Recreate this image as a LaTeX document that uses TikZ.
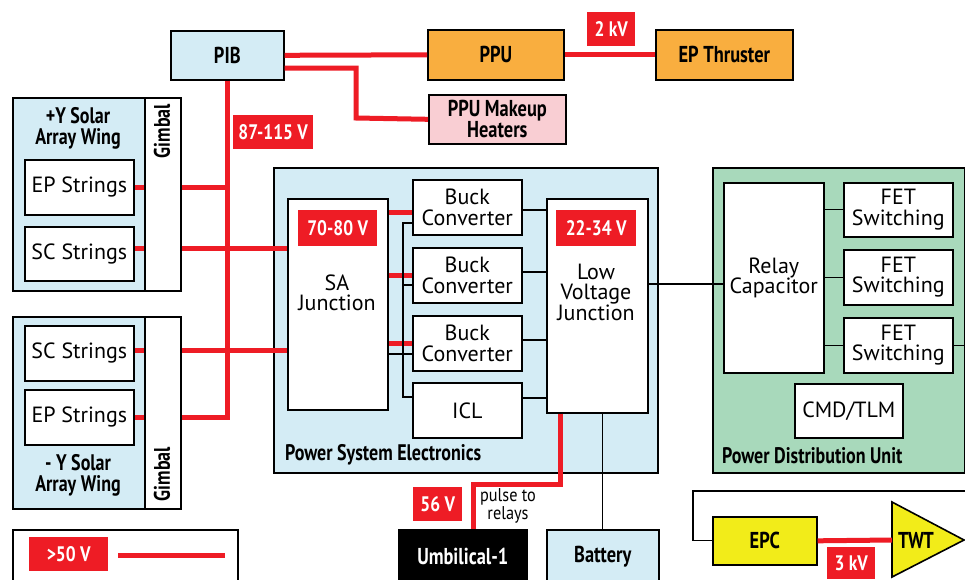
\documentclass[tikz,border=0pt]{standalone}
\usepackage{fontspec}
\setmainfont{PT Sans}
\newfontfamily\bcf[FakeStretch=0.8]{PT Sans}
\newfontfamily\tgf[FakeStretch=0.83]{PT Sans}
\newfontfamily\ncf[FakeStretch=0.88]{PT Sans}
\definecolor{lblue}{HTML}{D4ECF5}
\definecolor{orng}{HTML}{F9AE3F}
\definecolor{pnk}{HTML}{F9CED3}
\definecolor{grn}{HTML}{A8D9BB}
\definecolor{ylw}{HTML}{F2EC19}
\definecolor{rd}{HTML}{EE1C25}
\tikzset{
  bx/.style={draw=black, line width=1.6pt, inner sep=0pt, align=center, anchor=north west},
  reg/.style={font=\fontsize{22}{20.5}\selectfont},
  bld/.style={font=\bcf\bfseries\fontsize{23}{21}\selectfont},
  lbl/.style={font=\bcf\bfseries\fontsize{22.5}{21}\selectfont, align=center, inner sep=0pt},
  tag/.style={fill=rd, text=white, inner sep=0pt, anchor=north west, font=\tgf\bfseries\fontsize{21}{19}\selectfont},
  hv/.style={rd, line width=5pt},
  thn/.style={black, line width=1.3pt},
}
\begin{document}
\begin{tikzpicture}[x=1pt,y=-1pt]
\clip (0,0) rectangle (965,579);
\fill[white] (0,0) rectangle (965,579);
% containers
\node[bx, fill=lblue, minimum width=132pt, minimum height=193pt] (wingP) at (12,97) {};
\node[bx, fill=white, minimum width=36pt, minimum height=193pt] (gimbalP) at (144,97) {};
\node[bx, fill=lblue, minimum width=132pt, minimum height=192pt] (wingM) at (12,316) {};
\node[bx, fill=white, minimum width=36pt, minimum height=192pt] (gimbalM) at (144,316) {};
\node[bx, fill=white, minimum width=225pt, minimum height=70pt] (legend) at (12,529) {};
\node[bx, fill=lblue, minimum width=384pt, minimum height=305pt] (PSE) at (273,167) {};
\node[bx, fill=grn, minimum width=252pt, minimum height=305pt] (PDU) at (712,167) {};
% top boxes
\node[bx, fill=lblue, bld, minimum width=113pt, minimum height=49pt] (PIB) at (170,30) {PIB};
\node[bx, fill=orng, bld, minimum width=136pt, minimum height=50pt] (PPU) at (427,29) {PPU};
\node[bx, fill=orng, bld, minimum width=137pt, minimum height=50pt] (EPT) at (655,29) {EP Thruster};
\node[bx, fill=pnk, bld, minimum width=137pt, minimum height=49pt] (Heaters) at (428,94) {PPU Makeup\\Heaters};
% wings
\node[lbl] (titleP) at (78,128) {+Y Solar\\Array Wing};
\node[lbl] (titleM) at (78,475) {- Y Solar\\Array Wing};
\node[lbl, rotate=90] (gtxtP) at (162,131) {Gimbal};
\node[lbl, rotate=90] (gtxtM) at (162,474) {Gimbal};
\node[bx, fill=white, reg, minimum width=109pt, minimum height=55pt] (EPsP) at (24,159) {EP Strings};
\node[bx, fill=white, reg, minimum width=109pt, minimum height=54pt] (SCsP) at (24,226) {SC Strings};
\node[bx, fill=white, reg, minimum width=109pt, minimum height=55pt] (SCsM) at (24,325) {SC Strings};
\node[bx, fill=white, reg, minimum width=109pt, minimum height=55pt] (EPsM) at (24,389) {EP Strings};
% PSE
\node[bx, fill=white, minimum width=100pt, minimum height=211pt] (SAJ) at (287,198) {};
\node[reg, align=center, inner sep=0pt] (SAJtxt) at (337,293) {SA\\Junction};
\node[bx, fill=white, reg, minimum width=109pt, minimum height=55pt] (Buck1) at (412,179) {Buck\\Converter};
\node[bx, fill=white, reg, minimum width=109pt, minimum height=55pt] (Buck2) at (412,247) {Buck\\Converter};
\node[bx, fill=white, reg, minimum width=109pt, minimum height=55pt] (Buck3) at (412,315) {Buck\\Converter};
\node[bx, fill=white, reg, minimum width=109pt, minimum height=55pt] (ICL) at (412,382) {ICL};
\node[bx, fill=white, minimum width=101pt, minimum height=214pt] (LVJ) at (546,198) {};
\node[reg, align=center, inner sep=0pt] (LVJtxt) at (596,292) {Low\\Voltage\\Junction};
\node[lbl, anchor=west] (PSEtxt) at (285,455) {Power System Electronics};
% PDU
\node[bx, fill=white, reg, minimum width=100pt, minimum height=190pt] (Relay) at (723,182) {Relay\\Capacitor};
\node[bx, fill=white, reg, minimum width=109pt, minimum height=54pt] (FET1) at (843,182) {FET\\Switching};
\node[bx, fill=white, reg, minimum width=109pt, minimum height=55pt] (FET2) at (843,249) {FET\\Switching};
\node[bx, fill=white, reg, minimum width=109pt, minimum height=55pt] (FET3) at (843,317) {FET\\Switching};
\node[bx, fill=white, reg, minimum width=108pt, minimum height=54pt] (CMD) at (794,383) {CMD/TLM};
\node[lbl, anchor=west] (PDUtxt) at (722,456) {Power Distribution Unit};
% bottom
\node[bx, fill=black, text=white, bld, minimum width=128pt, minimum height=53pt] (Umb) at (398,529) {Umbilical-1};
\node[bx, fill=lblue, bld, minimum width=112pt, minimum height=53pt] (Bat) at (546,529) {Battery};
\node[bx, fill=ylw, bld, minimum width=104pt, minimum height=48pt] (EPC) at (712,516) {EPC};
\draw[line width=1.6pt, fill=ylw] (892,502) -- (964,540) -- (892,577) -- cycle;
\coordinate (twtin) at (892,540);
\node[bld] (TWT) at (916,540) {TWT};
\node[font=\ncf\fontsize{18.5}{15}\selectfont, align=center, inner sep=0pt] (pulse) at (508,506) {pulse to\\relays};
% red connectors
\draw[hv] (PIB.east) -- (PPU.west);
\draw[hv] (PPU.east) -- (EPT.west);
\draw[hv] (PIB.east |- 0,68) -| (356,118) -- (Heaters.west);
\draw[hv] (PIB.south) -- (PIB.south |- EPsM.east) -- (gimbalM.east |- EPsM.east);
\draw[hv] (EPsM.east) -- (gimbalM.west |- EPsM.east);
\draw[hv] (EPsP.east) -- (gimbalP.west |- EPsP.east);
\draw[hv] (gimbalP.east |- EPsP.east) -- (PIB.south |- EPsP.east);
\draw[hv] (SCsP.east |- 0,248) -- (gimbalP.west |- 0,248);
\draw[hv] (gimbalP.east |- 0,248) -- (SAJ.west |- 0,248);
\draw[hv] (SCsM.east |- 0,350) -- (gimbalM.west |- 0,350);
\draw[hv] (gimbalM.east |- 0,350) -- (SAJ.west |- 0,350);
\draw[hv] (SAJ.east |- 0,212) -- (Buck1.west |- 0,212);
\draw[hv] (SAJ.east |- Buck2.west) -- (Buck2.west);
\draw[hv] (SAJ.east |- Buck3.west) -- (Buck3.west);
\draw[hv] (LVJ.south -| 560,0) -- (560,484) -| (Umb.north -| 473,0);
\draw[hv] (EPC.east) -- (twtin);
\coordinate (lgA) at (118,555);
\coordinate (lgB) at (225,555);
\draw[hv] (lgA) -- (lgB);
% thin connectors
\draw[thn] (SAJ.east |- 0,354) -- (Buck3.west |- 0,354);
\draw[thn] (Buck1.west |- 0,223) -| (403,397) -- (ICL.west |- 0,397);
\draw[thn] (403,285) -- (Buck2.west |- 0,285);
\draw[thn] (Buck1.east |- 0,210) -- (LVJ.west |- 0,210);
\draw[thn] (Buck2.east |- 0,272) -- (LVJ.west |- 0,272);
\draw[thn] (Buck3.east |- 0,340) -- (LVJ.west |- 0,340);
\draw[thn] (ICL.east |- 0,398) -- (LVJ.west |- 0,398);
\draw[thn] (LVJ.east |- 0,284) -- (Relay.west |- 0,284);
\draw[thn] (Relay.east |- FET1.west) -- (FET1.west);
\draw[thn] (Relay.east |- FET2.west) -- (FET2.west);
\draw[thn] (Relay.east |- FET3.west) -- (FET3.west);
\draw[thn] (FET3.east) -- (PDU.east |- FET3.east);
\draw[thn] (LVJ.south -| Bat.north) -- (Bat.north);
\coordinate (epcout) at (966,491);
\draw[thn] (EPC.west) -| (693,491) -- (epcout);
% tags
\node[tag, minimum width=48pt, minimum height=34pt] (t2kV) at (587,12) {2 kV};
\node[tag, minimum width=80pt, minimum height=34pt] (t87) at (233,115) {87-115 V};
\node[tag, minimum width=79pt, minimum height=36pt] (t70) at (298,210) {70-80 V};
\node[tag, minimum width=80pt, minimum height=36pt] (t22) at (556,210) {22-34 V};
\node[tag, minimum width=79pt, minimum height=34pt] (t50) at (29,537) {>50 V};
\node[tag, minimum width=49pt, minimum height=34pt] (t56) at (413,487) {56 V};
\node[tag, minimum width=48pt, minimum height=32pt] (t3kV) at (827,547) {3 kV};
\end{tikzpicture}
\end{document}
